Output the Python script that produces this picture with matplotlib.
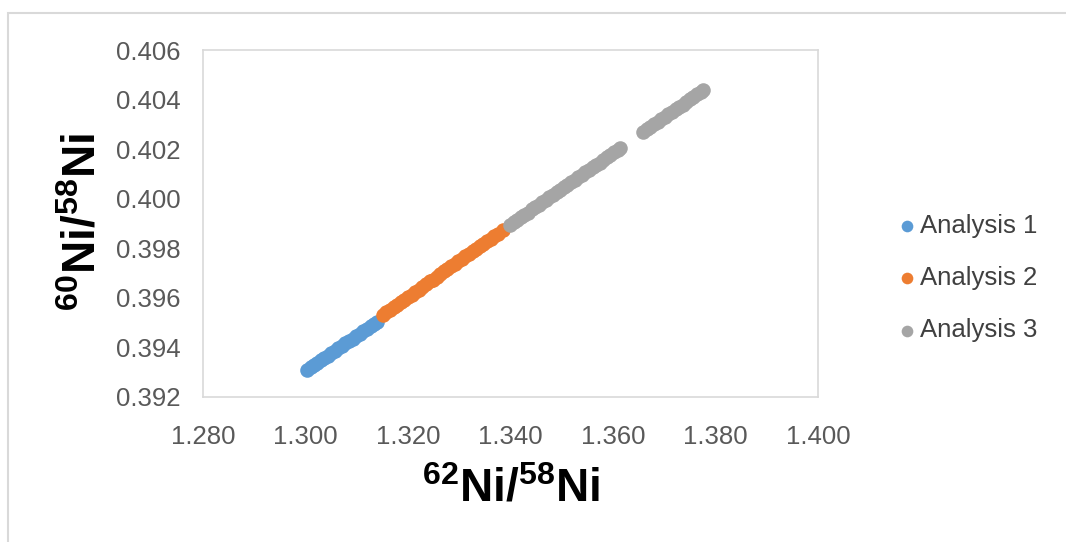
import matplotlib
matplotlib.use('Agg')
import matplotlib.pyplot as plt
from matplotlib.patches import Rectangle

plt.rcParams['font.family'] = ['Liberation Sans', 'DejaVu Sans']
plt.rcParams['mathtext.fontset'] = 'custom'
plt.rcParams['mathtext.rm'] = 'Liberation Sans'
plt.rcParams['mathtext.bf'] = 'Liberation Sans:bold'

# Analysis 1 (blue)
a1_x = [1.3003, 1.3010, 1.3016, 1.3023, 1.3030, 1.3037, 1.3043, 1.3050, 1.3057, 1.3064,
        1.3071, 1.3078, 1.3085, 1.3092, 1.3099, 1.3106, 1.3113, 1.3120, 1.3127, 1.3134, 1.3140]
a1_y = [0.39310, 0.39320, 0.39328, 0.39338, 0.39348, 0.39358, 0.39366, 0.39376, 0.39386, 0.39396,
        0.39406, 0.39416, 0.39426, 0.39435, 0.39445, 0.39455, 0.39465, 0.39475, 0.39485, 0.39495, 0.39503]

# Analysis 2 (orange)
a2_x = [1.3151, 1.3158, 1.3165, 1.3172, 1.3179, 1.3186, 1.3193, 1.3200, 1.3207, 1.3214,
        1.3221, 1.3228, 1.3235, 1.3242, 1.3249, 1.3256, 1.3263, 1.3270, 1.3277, 1.3284,
        1.3291, 1.3298, 1.3305, 1.3312, 1.3319, 1.3326, 1.3333, 1.3340, 1.3347, 1.3354,
        1.3361, 1.3368, 1.3375, 1.3385]
a2_y = [0.39531, 0.39542, 0.39551, 0.39563, 0.39572, 0.39583, 0.39592, 0.39604, 0.39613, 0.39625,
        0.39633, 0.39645, 0.39654, 0.39666, 0.39674, 0.39686, 0.39695, 0.39707, 0.39716, 0.39727,
        0.39736, 0.39748, 0.39756, 0.39768, 0.39777, 0.39788, 0.39797, 0.39809, 0.39818, 0.39830,
        0.39838, 0.39850, 0.39859, 0.39874]

# Analysis 3 (grey), two runs with a gap
a3_x = [1.3399, 1.3406, 1.3413, 1.3420, 1.3427, 1.3434, 1.3441, 1.3448, 1.3455, 1.3462,
        1.3469, 1.3476, 1.3483, 1.3490, 1.3497, 1.3504, 1.3511, 1.3518, 1.3525, 1.3532,
        1.3539, 1.3546, 1.3553, 1.3560, 1.3567, 1.3574, 1.3581, 1.3588, 1.3595, 1.3602,
        1.3609, 1.3614,
        1.3659, 1.3666, 1.3673, 1.3680, 1.3687, 1.3694, 1.3701, 1.3708, 1.3715, 1.3722,
        1.3729, 1.3736, 1.3743, 1.3750, 1.3757, 1.3764, 1.3771, 1.3776]
a3_y = [0.39894, 0.39906, 0.39913, 0.39926, 0.39935, 0.39944, 0.39957, 0.39965, 0.39975, 0.39987,
        0.39995, 0.40005, 0.40016, 0.40026, 0.40035, 0.40048, 0.40056, 0.40066, 0.40076, 0.40087,
        0.40096, 0.40107, 0.40116, 0.40127, 0.40137, 0.40146, 0.40157, 0.40167, 0.40177, 0.40187,
        0.40197, 0.40205,
        0.40269, 0.40280, 0.40289, 0.40300, 0.40310, 0.40320, 0.40330, 0.40341, 0.40350, 0.40361,
        0.40371, 0.40380, 0.40390, 0.40401, 0.40411, 0.40421, 0.40431, 0.40439]

x_ticks = [1.280, 1.300, 1.320, 1.340, 1.360, 1.380, 1.400]
y_ticks = [0.392, 0.394, 0.396, 0.398, 0.400, 0.402, 0.404, 0.406]

W, H = 1066, 542
fig = plt.figure(figsize=(W / 100, H / 100), dpi=100)
# outer chart frame
fig.patches.append(Rectangle((8 / W, -0.1), 1.2, 1 - 13 / H + 0.1, transform=fig.transFigure,
                             fill=False, edgecolor='#D9D9D9', lw=1.5))

ax = fig.add_axes([203 / W, 1 - 397 / H, 615 / W, 347 / H])

s = 110
ax.scatter(a1_x, a1_y, s=s, color='#5B9BD5', label='Analysis 1', linewidths=0)
ax.scatter(a2_x, a2_y, s=s, color='#ED7D31', label='Analysis 2', linewidths=0)
ax.scatter(a3_x, a3_y, s=s, color='#A5A5A5', label='Analysis 3', linewidths=0)

ax.set_xlim(1.280, 1.400)
ax.set_ylim(0.392, 0.406)
ax.set_xticks(x_ticks)
ax.set_yticks(y_ticks)
ax.set_xticklabels([f'{v:.3f}' for v in x_ticks])
ax.set_yticklabels([f'{v:.3f}' for v in y_ticks])
ax.tick_params(length=0, labelsize=18.5, colors='#595959')
ax.tick_params(axis='x', pad=20)
ax.tick_params(axis='y', pad=16)

for sp in ax.spines.values():
    sp.set_color('#D9D9D9')
    sp.set_linewidth(1.2)

fig.text(511 / W, 1 - 502 / H, r'$\mathbf{^{62}Ni/^{58}Ni}$', fontsize=33,
         ha='center', va='baseline')
fig.text(84 / W, 1 - 222 / H, r'$\mathbf{^{60}Ni/^{58}Ni}$', fontsize=33,
         ha='center', va='center', rotation=90)

fig.legend(loc='center left', bbox_to_anchor=(876 / W, 1 - 278 / H), frameon=False, fontsize=18.5,
           handlelength=0.6, handletextpad=0.2, labelspacing=1.1, markerscale=0.8,
           scatterpoints=1, labelcolor='#404040')

fig.savefig('out.png', dpi=100, facecolor='white')
